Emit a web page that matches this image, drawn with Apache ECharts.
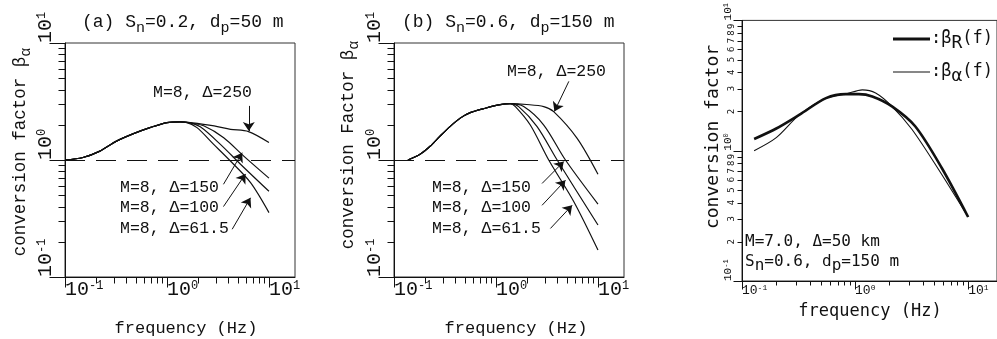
<!DOCTYPE html>
<html><head><meta charset="utf-8">
<script src="https://cdn.jsdelivr.net/npm/echarts@6/dist/echarts.min.js"></script>
<style>html,body{margin:0;padding:0;background:#fff}#c{width:997px;height:339px}</style>
</head><body><div id="c"></div>
<script>
// ---------------- data ----------------
const majorTicks = [0.1, 1, 10];
const minorTicks = [0.2,0.3,0.4,0.5,0.6,0.7,0.8,0.9,2,3,4,5,6,7,8,9];

// panel (a) Sn=0.2, dp=50 m
const aFreqCommon = [0.1, 0.15, 0.22, 0.32, 0.47, 0.68, 1.0, 1.35];
const aBetaCommon = [1.0, 1.05, 1.19, 1.45, 1.68, 1.89, 2.09, 2.12];
const aFreq250 = [1.7, 2.9, 4.2, 6.3, 10];
const aBeta250 = [2.09, 1.96, 1.83, 1.75, 1.41];
const aFreq150 = [1.7, 2.29, 3.6, 5.66, 10];
const aBeta150 = [2.07, 1.96, 1.55, 1.08, 0.70];
const aFreq100 = [1.6, 2.12, 3.34, 5.26, 10];
const aBeta100 = [2.1, 1.92, 1.36, 0.92, 0.54];
const aFreq615 = [1.55, 1.97, 2.87, 4.19, 6.6, 10];
const aBeta615 = [2.1, 1.89, 1.36, 0.98, 0.64, 0.355];
const aArrows = [[[6.34,2.9],[6.34,1.77]], [[3.58,0.62],[5.46,1.155]], [[3.58,0.40],[5.89,0.76]], [[4.36,0.256],[6.59,0.475]]];

// panel (b) Sn=0.6, dp=150 m
const bFreqCommon = [0.137, 0.18, 0.226, 0.283, 0.356, 0.446, 0.559, 0.785, 1.1, 1.38];
const bBetaCommon = [1.0, 1.12, 1.31, 1.6, 1.94, 2.28, 2.54, 2.77, 2.97, 3.03];
const bFreq250 = [2.0, 2.94, 3.68, 6.25, 10];
const bBeta250 = [2.98, 2.86, 2.59, 1.53, 0.755];
const bFreq150 = [1.87, 2.94, 4.8, 10];
const bBeta150 = [2.86, 1.99, 1.0, 0.42];
const bFreq100 = [1.67, 2.53, 3.98, 10];
const bBeta100 = [2.86, 1.93, 1.0, 0.278];
const bFreq615 = [1.55, 2.17, 3.29, 5.8, 10];
const bBeta615 = [2.86, 1.99, 1.0, 0.44, 0.17];
const bArrows = [[[5.18,4.7],[3.74,2.6]], [[2.83,0.63],[4.62,0.97]], [[2.83,0.41],[4.8,0.67]], [[3.42,0.26],[5.58,0.41]]];

// panel (c) M=7.0, Δ=50 km
const cFreqR = [0.128, 0.201, 0.323, 0.553, 0.828, 1.08, 1.42, 2.12, 3.4, 5.83, 10];
const cBetaR = [1.23, 1.48, 1.89, 2.53, 2.72, 2.72, 2.61, 2.19, 1.54, 0.74, 0.31];
const cFreqA = [0.128, 0.201, 0.323, 0.553, 0.828, 1.16, 1.52, 2.12, 3.18, 5.46, 10];
const cBetaA = [1.0, 1.26, 1.89, 2.53, 2.72, 2.93, 2.77, 2.19, 1.46, 0.72, 0.31];

const deltaLabels = ['M=8, Δ=250', 'M=8, Δ=150', 'M=8, Δ=100', 'M=8, Δ=61.5'];
const referenceLevel = [1];

// ---------------- helpers ----------------
const INK = '#111';
const MONO = 'Liberation Mono';
const SANSM = 'DejaVu Sans Mono';
const X_MIN = 0.1, X_MAX = 18, Y_MIN = 0.1, Y_MAX = 10;
const zip = (f, b) => f.map((v, i) => [v, b[i]]);
const expOf = v => Math.round(Math.log10(v));
const powLabel = v => '{b|10}{s|' + expOf(v) + '}';
function powRich(big, small, lh, slh) {
  return {
    b: {fontSize: big, fontFamily: MONO, lineHeight: lh, verticalAlign: 'top', color: INK},
    s: {fontSize: small, fontFamily: MONO, lineHeight: slh, verticalAlign: 'top', color: INK}
  };
}

const gridBoxes = [
  {left: 65, top: 43, width: 230, height: 234},
  {left: 394, top: 43, width: 230, height: 234},
  {left: 742, top: 19, width: 257, height: 262}
];
const grids = gridBoxes.map(g => Object.assign({}, g, {show: true, borderColor: '#333', borderWidth: 1, backgroundColor: 'transparent', containLabel: false}));

const xAxes = [], yAxes = [];
const xIdx = [], yIdx = [];
function addAxes(gi, cfg) {
  const base = {type: 'log', logBase: 10, gridIndex: gi, splitLine: {show: false}, axisTick: {show: false},
    axisLine: {show: true, onZero: false, lineStyle: {color: INK, width: 1}}};
  xIdx[gi] = xAxes.length;
  yIdx[gi] = yAxes.length;
  xAxes.push(Object.assign({}, base, {position: 'bottom', min: X_MIN, max: X_MAX,
    axisLabel: {customValues: majorTicks, formatter: powLabel, rich: cfg.xRich, align: 'left', margin: cfg.xMargin}}));
  yAxes.push(Object.assign({}, base, {position: 'left', min: Y_MIN, max: Y_MAX,
    axisLabel: {customValues: majorTicks, formatter: powLabel, rich: cfg.yRich, rotate: 90, align: 'left', verticalAlign: 'bottom', margin: cfg.yMargin}}));
  if (cfg.yMinorLabels) {
    yAxes.push(Object.assign({}, base, {position: 'left', min: Y_MIN, max: Y_MAX,
      axisLabel: {customValues: minorTicks, rotate: 90, align: 'center', verticalAlign: 'bottom', margin: 6,
        fontSize: 9, fontFamily: SANSM, color: INK,
        formatter: v => String(v < 1 ? Math.round(v * 10) : Math.round(v))}}));
  }
}
const tickLen = [
  {xMaj: 10, xMin: 6, yMaj: 16, yMin: 7},
  {xMaj: 10, xMin: 6, yMaj: 16, yMin: 7},
  {xMaj: 8, xMin: 4, yMaj: 9, yMin: 5}
];
addAxes(0, {xMargin: 3, yMargin: 3, xRich: powRich(20, 12, 26, 8), yRich: powRich(20, 12, 26, 8)});
addAxes(1, {xMargin: 3, yMargin: 3, xRich: powRich(20, 12, 26, 8), yRich: powRich(20, 12, 26, 8)});
addAxes(2, {xMargin: 3, yMargin: 5, xRich: powRich(13, 8, 16, 6), yRich: powRich(11, 7, 14, 5), yMinorLabels: true});

const lineBase = {type: 'line', symbol: 'none', showSymbol: false, smooth: 0.3, silent: true, animation: false,
  lineStyle: {color: INK, width: 1.2}};
function arrowLine(a) {
  return {symbol: ['none', 'arrow'], symbolSize: 9, silent: true, animation: false,
    label: {show: false}, lineStyle: {color: INK, width: 1, type: 'solid'},
    data: [[{coord: a[0]}, {coord: a[1]}]]};
}
function panelSeries(gi, common, branches, arrows) {
  const out = branches.map((br, k) => Object.assign({}, lineBase, {
    xAxisIndex: xIdx[gi], yAxisIndex: yIdx[gi],
    data: common.concat(br),
    markLine: arrowLine(arrows[k])
  }));
  out.push({type: 'line', xAxisIndex: xIdx[gi], yAxisIndex: yIdx[gi], data: [], silent: true, animation: false,
    markLine: {symbol: ['none', 'none'], silent: true, animation: false, label: {show: false},
      lineStyle: {type: [20, 11], width: 1.2, color: INK},
      data: referenceLevel.map(v => ({yAxis: v}))}});
  return out;
}
const series = []
  .concat(panelSeries(0, zip(aFreqCommon, aBetaCommon), [zip(aFreq250, aBeta250), zip(aFreq150, aBeta150), zip(aFreq100, aBeta100), zip(aFreq615, aBeta615)], aArrows))
  .concat(panelSeries(1, zip(bFreqCommon, bBetaCommon), [zip(bFreq250, bBeta250), zip(bFreq150, bBeta150), zip(bFreq100, bBeta100), zip(bFreq615, bBeta615)], bArrows));
series.push(Object.assign({}, lineBase, {xAxisIndex: xIdx[2], yAxisIndex: yIdx[2], data: zip(cFreqR, cBetaR), lineStyle: {color: INK, width: 2.6}}));
series.push(Object.assign({}, lineBase, {xAxisIndex: xIdx[2], yAxisIndex: yIdx[2], data: zip(cFreqA, cBetaA), lineStyle: {color: INK, width: 1.1}}));

// ---------------- texts ----------------
function richSet(size, fam, subSize, drop) {
  return {
    m: {fontSize: size, fontFamily: fam, lineHeight: size, verticalAlign: 'top', fill: INK, color: INK},
    s: {fontSize: subSize, fontFamily: fam, lineHeight: size + drop, verticalAlign: 'bottom', fill: INK, color: INK}
  };
}
function text(x, y, str, size, fam, opt) {
  opt = opt || {};
  const el = {type: 'text', x: x, y: y, silent: true,
    style: {text: str, fill: INK, font: size + 'px "' + fam + '"', fontSize: size, fontFamily: fam,
      align: opt.align || 'left', textAlign: opt.align || 'left',
      verticalAlign: opt.va || 'middle', textVerticalAlign: opt.va || 'middle'}};
  if (opt.rich) el.style.rich = opt.rich;
  if (opt.rot) el.rotation = opt.rot;
  return el;
}
const graphics = [];
graphics.push(text(82, 13, '{m|(a) S}{s|n}{m|=0.2, d}{s|p}{m|=50 m}', 18, MONO, {va: 'top', rich: richSet(18, MONO, 15, 5)}));
graphics.push(text(402, 13, '{m|(b) S}{s|n}{m|=0.6, d}{s|p}{m|=150 m}', 18, MONO, {va: 'top', rich: richSet(18, MONO, 15, 5)}));
graphics.push(text(11, 152, '{m|conversion factor β}{s|α}', 17.5, MONO, {align: 'center', va: 'top', rot: Math.PI / 2, rich: richSet(17.5, MONO, 15, 5)}));
graphics.push(text(339, 145, '{m|conversion Factor β}{s|α}', 17.5, MONO, {align: 'center', va: 'top', rot: Math.PI / 2, rich: richSet(17.5, MONO, 15, 5)}));
graphics.push(text(713, 137, 'conversion factor', 18, SANSM, {align: 'center', rot: Math.PI / 2}));
graphics.push(text(186, 328, 'frequency (Hz)', 17, MONO, {align: 'center'}));
graphics.push(text(516, 328, 'frequency (Hz)', 17, MONO, {align: 'center'}));
graphics.push(text(870, 312, 'frequency (Hz)', 17, SANSM, {align: 'center'}));
graphics.push(text(153, 93, deltaLabels[0], 16.5, MONO));
graphics.push(text(120, 188, deltaLabels[1], 16.5, MONO));
graphics.push(text(120, 208, deltaLabels[2], 16.5, MONO));
graphics.push(text(120, 229, deltaLabels[3], 16.5, MONO));
graphics.push(text(507, 72, deltaLabels[0], 16.5, MONO));
graphics.push(text(432, 188, deltaLabels[1], 16.5, MONO));
graphics.push(text(432, 208, deltaLabels[2], 16.5, MONO));
graphics.push(text(432, 229, deltaLabels[3], 16.5, MONO));
graphics.push(text(745, 242, 'M=7.0, Δ=50 km', 16, SANSM));
graphics.push(text(745, 254, '{m|S}{s|n}{m|=0.6, d}{s|p}{m|=150 m}', 16, SANSM, {va: 'top', rich: richSet(16, SANSM, 16, 4)}));
graphics.push({type: 'line', silent: true, shape: {x1: 893, y1: 39, x2: 930, y2: 39}, style: {stroke: INK, lineWidth: 2.8}});
graphics.push({type: 'line', silent: true, shape: {x1: 893, y1: 72, x2: 930, y2: 72}, style: {stroke: INK, lineWidth: 1.1}});
graphics.push(text(931, 30, '{m|:β}{s|R}{m|(f)}', 17, SANSM, {va: 'top', rich: richSet(17, SANSM, 18, 5)}));
graphics.push(text(931, 63, '{m|:β}{s|α}{m|(f)}', 17, SANSM, {va: 'top', rich: richSet(17, SANSM, 18, 5)}));

const chart = echarts.init(document.getElementById('c'), null, {renderer: 'canvas'});
chart.setOption({
  animation: false,
  backgroundColor: '#fff',
  grid: grids,
  xAxis: xAxes,
  yAxis: yAxes,
  series: series
});

// axis tick marks: positions from the library's log scale, with a log-geometry fallback
function tickPixel(gi, dim, v) {
  let p = null;
  try {
    p = chart.convertToPixel({gridIndex: gi}, dim === 'x' ? [v, Y_MIN] : [X_MIN, v]);
  } catch (e) { p = null; }
  if (!p || !isFinite(p[0]) || !isFinite(p[1])) {
    const g = gridBoxes[gi];
    const fx = (Math.log10(v) - Math.log10(X_MIN)) / (Math.log10(X_MAX) - Math.log10(X_MIN));
    const fy = (Math.log10(v) - Math.log10(Y_MIN)) / (Math.log10(Y_MAX) - Math.log10(Y_MIN));
    p = dim === 'x' ? [g.left + g.width * fx, g.top + g.height] : [g.left, g.top + g.height * (1 - fy)];
  }
  return p;
}
const ticks = [];
function addTick(gi, dim, v, len) {
  const p = tickPixel(gi, dim, v);
  const x = Math.round(p[0]) + 0.5, y = Math.round(p[1]) + 0.5;
  ticks.push({type: 'line', silent: true, z: 50,
    shape: dim === 'x' ? {x1: x, y1: y, x2: x, y2: y + len} : {x1: x, y1: y, x2: x - len, y2: y},
    style: {stroke: INK, lineWidth: 1}});
}
[0, 1, 2].forEach(gi => {
  const L = tickLen[gi];
  majorTicks.forEach(v => { addTick(gi, 'x', v, L.xMaj); addTick(gi, 'y', v, L.yMaj); });
  minorTicks.forEach(v => { addTick(gi, 'x', v, L.xMin); addTick(gi, 'y', v, L.yMin); });
});
chart.setOption({graphic: graphics.concat(ticks)});
</script>
</body></html>
